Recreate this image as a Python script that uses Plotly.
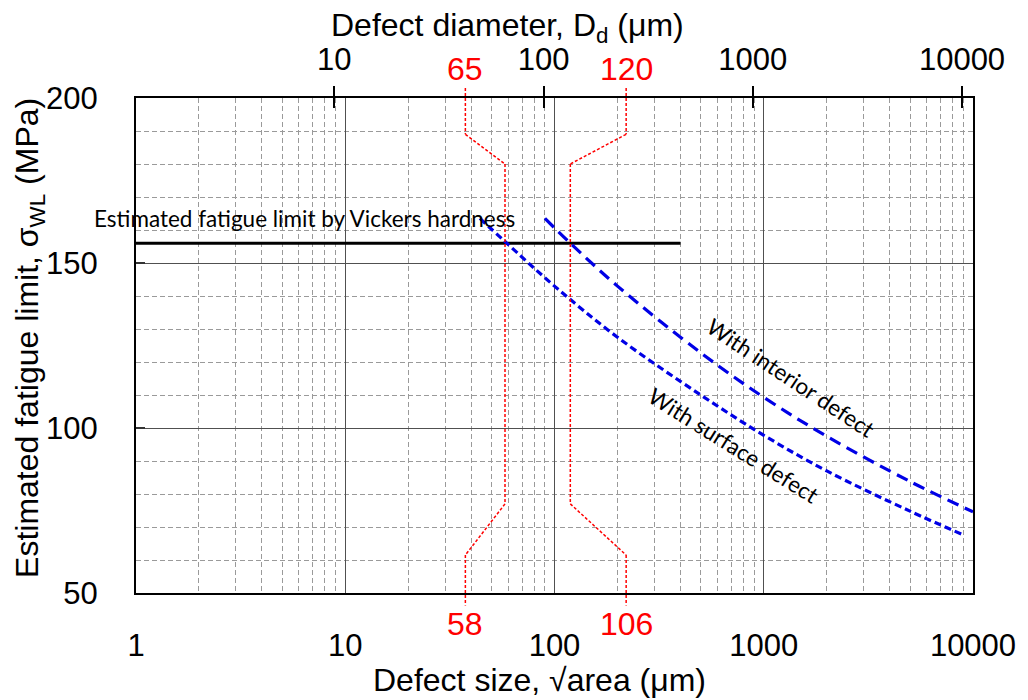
import math
import plotly.graph_objects as go

# ---------------- data ----------------
# surface-defect curve (short dashes)
size_surface = [44, 58, 100, 200, 500, 1000, 2000, 5000, 9000]
sigma_surface = [163.5, 156.5, 143, 127.5, 110, 97.8, 87, 74.8, 67.6]
# interior-defect curve (long dashes)
size_interior = [90, 119, 200, 500, 1000, 2000, 5000, 10000]
sigma_interior = [163.5, 156, 143, 122.8, 109.3, 97.5, 83.8, 74.6]
# fatigue limit estimated from Vickers hardness
vickers_size = [1, 400]
vickers_sigma = [156, 156]

# guide (red) lines: x positions and bend levels
guide_left_x = [37.5, 58]        # outer (label side), inner (on curve)
guide_right_x = [220, 119]
guide_bend_sigma = [189, 180, 77, 61.5]
guide_top_labels = ["65", "120"]
guide_bottom_labels = ["58", "106"]

# axes
x_ticks = [1, 10, 100, 1000, 10000]
x_minor = [m * 10 ** k for k in range(4) for m in range(2, 10)]
y_ticks = [50, 100, 150, 200]
y_minor = [v for v in range(60, 200, 10) if v not in (100, 150)]
top_ticks = [10, 100, 1000, 10000]
diam_factor = 2 / math.sqrt(math.pi)   # D_d = sqrt(area) * 2/sqrt(pi)

y_range = [50, 200]

FONT = "Arial, Liberation Sans, sans-serif"
NOTE_FONT = "Lato, Carlito, sans-serif"
TICK_SIZE = 31
TITLE_SIZE = 32
NOTE_SIZE = 22.5

fig = go.Figure()

fig.add_trace(go.Scatter(x=vickers_size, y=vickers_sigma, mode="lines",
                         line=dict(color="black", width=3),
                         hoverinfo="skip", showlegend=False))
fig.add_trace(go.Scatter(x=size_surface, y=sigma_surface, mode="lines",
                         line=dict(color="#0000e6", width=3.2, dash="7px,4px",
                                   shape="spline"),
                         showlegend=False, name="With surface defect"))
fig.add_trace(go.Scatter(x=size_interior, y=sigma_interior, mode="lines",
                         line=dict(color="#0000e6", width=3.2, dash="12px,7px",
                                   shape="spline"),
                         showlegend=False, name="With interior defect"))
# dummy traces so the top axes exist
fig.add_trace(go.Scatter(x=[None], y=[None], xaxis="x2", showlegend=False,
                         hoverinfo="skip"))
fig.add_trace(go.Scatter(x=[None], y=[None], xaxis="x3", showlegend=False,
                         hoverinfo="skip"))


def to_paper(v):
    return (v - y_range[0]) / (y_range[1] - y_range[0])


top_end, bottom_end = 1.02, -0.025
shapes = []
for outer, inner in (guide_left_x, guide_right_x):
    b0, b1, b2, b3 = [to_paper(v) for v in guide_bend_sigma]
    pts = [(outer, top_end), (outer, b0), (inner, b1), (inner, b2),
           (outer, b3), (outer, bottom_end)]
    for (xa, ya), (xb, yb) in zip(pts[:-1], pts[1:]):
        shapes.append(dict(type="line", xref="x", yref="paper",
                           x0=xa, y0=ya, x1=xb, y1=yb,
                           line=dict(color="red", width=1.5, dash="3px,2px")))

annotations = []
for (outer, _), lt, lb in zip((guide_left_x, guide_right_x),
                              guide_top_labels, guide_bottom_labels):
    annotations.append(dict(x=math.log10(outer), y=1.059, xref="x", yref="paper",
                            text=lt, showarrow=False, xanchor="center",
                            yanchor="middle",
                            font=dict(family=FONT, size=32, color="red")))
    annotations.append(dict(x=math.log10(outer), y=-0.063, xref="x", yref="paper",
                            text=lb, showarrow=False, xanchor="center",
                            yanchor="middle",
                            font=dict(family=FONT, size=32, color="red")))

annotations.append(dict(x=-0.053, y=163.5, xref="paper", yref="y",
                        text="Estimated fatigue limit by Vickers hardness",
                        showarrow=False, xanchor="left", yanchor="middle",
                        font=dict(family=NOTE_FONT, size=NOTE_SIZE, color="black")))
annotations.append(dict(x=math.log10(1341), y=115.2, xref="x", yref="y",
                        text="With interior defect", showarrow=False,
                        textangle=33.5, xanchor="center", yanchor="middle",
                        font=dict(family=NOTE_FONT, size=NOTE_SIZE, color="black")))
annotations.append(dict(x=math.log10(719), y=94.8, xref="x", yref="y",
                        text="With surface defect", showarrow=False,
                        textangle=32, xanchor="center", yanchor="middle",
                        font=dict(family=NOTE_FONT, size=NOTE_SIZE, color="black")))

# axis titles
annotations.append(dict(x=0.482, y=-0.176, xref="paper", yref="paper",
                        text="Defect size, √area (μm)", showarrow=False,
                        xanchor="center", yanchor="middle",
                        font=dict(family=FONT, size=TITLE_SIZE, color="black")))
annotations.append(dict(x=0.444, y=1.142, xref="paper", yref="paper",
                        text="Defect diameter, D<sub>d</sub> (μm)",
                        showarrow=False, xanchor="center", yanchor="middle",
                        font=dict(family=FONT, size=TITLE_SIZE, color="black")))
annotations.append(dict(x=-0.128, y=0.515, xref="paper", yref="paper",
                        text="Estimated fatigue limit, σ<sub>WL</sub> (MPa)",
                        showarrow=False, textangle=-90,
                        xanchor="center", yanchor="middle",
                        font=dict(family=FONT, size=TITLE_SIZE, color="black")))

major_grid = "#505050"
minor_grid = "#9a9a9a"

fig.update_layout(
    width=1028, height=700,
    margin=dict(l=136, r=50, t=98, b=107),
    paper_bgcolor="white", plot_bgcolor="white",
    font=dict(family=FONT, size=TICK_SIZE, color="black"),
    shapes=shapes, annotations=annotations,
    xaxis=dict(
        type="log", range=[0, 4], tickvals=x_ticks,
        ticktext=[str(v) for v in x_ticks], ticks="",
        ticklabelstandoff=24,
        showline=True, linecolor="black", linewidth=2,
        showgrid=True, gridcolor=major_grid, gridwidth=1.2,
        minor=dict(tickvals=x_minor, showgrid=True, gridcolor=minor_grid,
                   griddash="5px,3px", gridwidth=1, ticks=""),
        tickfont=dict(size=TICK_SIZE),
        zeroline=False,
    ),
    xaxis2=dict(
        type="log", overlaying="x", side="top", anchor="y",
        range=[math.log10(diam_factor), math.log10(10000 * diam_factor)],
        tickvals=top_ticks, ticktext=[str(v) for v in top_ticks],
        ticks="outside", ticklen=10, tickwidth=2, tickcolor="black",
        ticklabelstandoff=4,
        showline=True, linecolor="black", linewidth=2,
        showgrid=False, tickfont=dict(size=TICK_SIZE),
    ),
    xaxis3=dict(
        type="log", overlaying="x", side="top", anchor="y",
        range=[math.log10(diam_factor), math.log10(10000 * diam_factor)],
        tickvals=top_ticks, ticks="inside", ticklen=10, tickwidth=2,
        tickcolor="black", showticklabels=False, showline=False,
        showgrid=False,
    ),
    yaxis=dict(
        range=y_range, tickvals=y_ticks, ticktext=[str(v) for v in y_ticks],
        ticks="inside", ticklen=9, tickwidth=2, tickcolor="#333333",
        ticklabelstandoff=30,
        showline=True, linecolor="black", linewidth=2, mirror=True,
        showgrid=True, gridcolor=major_grid, gridwidth=1.2,
        minor=dict(tickvals=y_minor, showgrid=True, gridcolor=minor_grid,
                   griddash="5px,3px", gridwidth=1, ticks=""),
        tickfont=dict(size=TICK_SIZE),
        zeroline=False,
    ),
)

fig.write_html("out.html")
